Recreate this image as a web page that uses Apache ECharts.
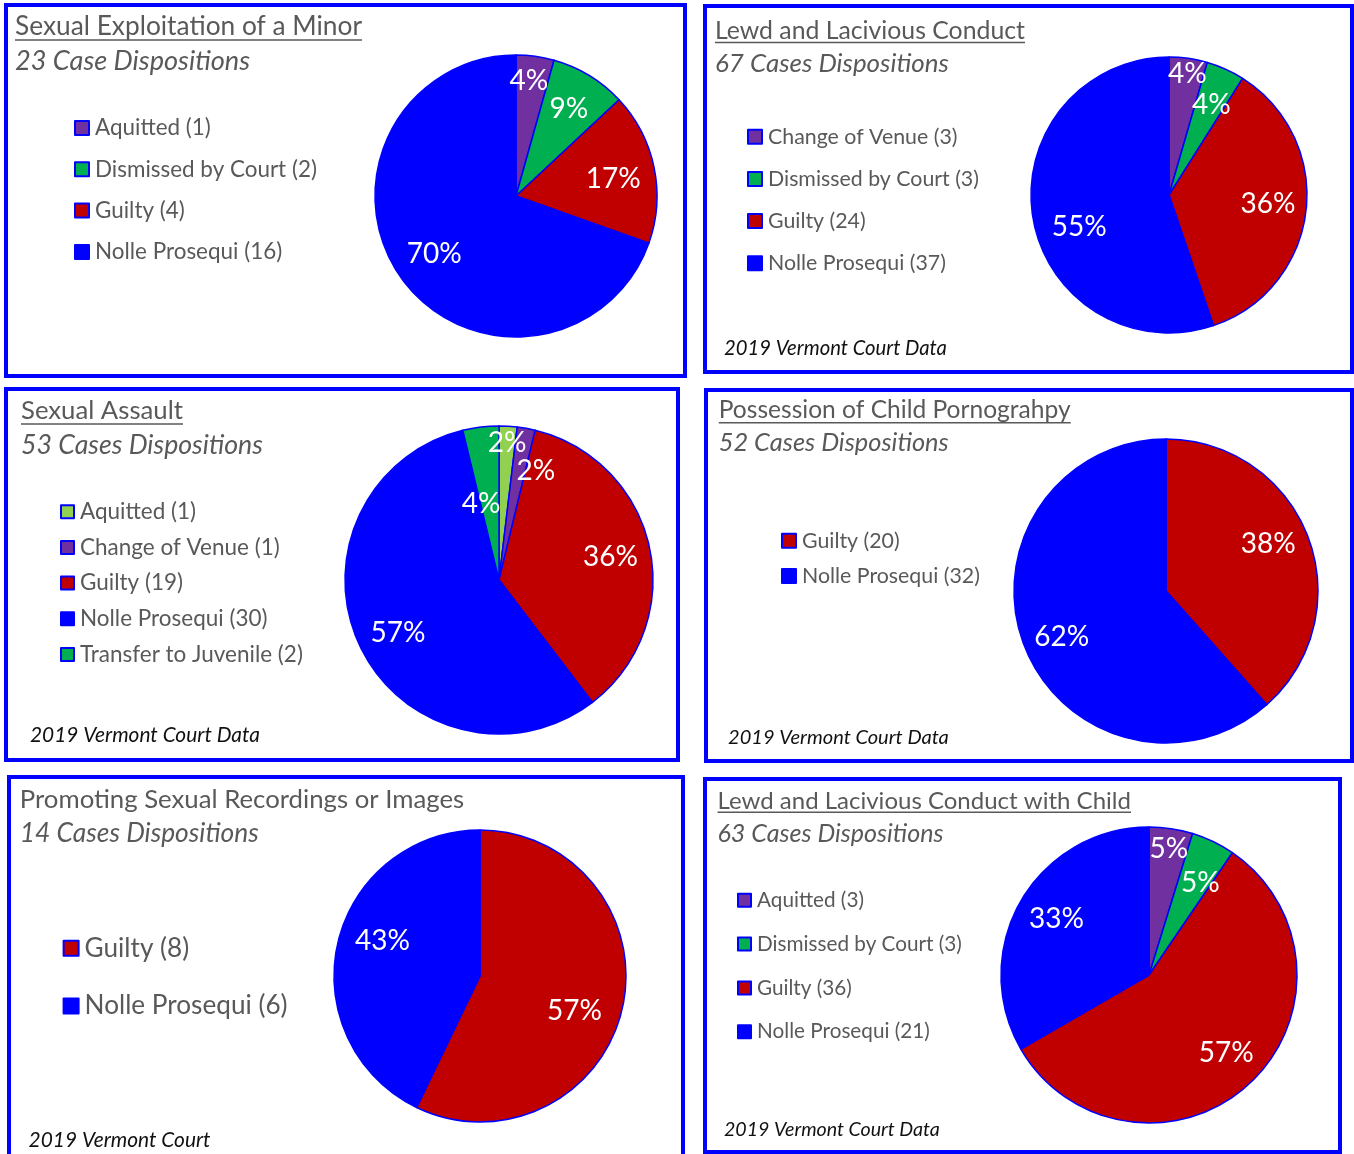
<!DOCTYPE html>
<html><head><meta charset="utf-8">
<script src="https://cdn.jsdelivr.net/npm/echarts@6/dist/echarts.min.js"></script>
<style>html,body{margin:0;padding:0;background:#fff;overflow:hidden}#c{width:1354px;height:1154px}</style>
</head><body><div id="c"></div>
<script>
// ---------- DATA ----------
const p1Title = 'Sexual Exploitation of a Minor';
const p1Sub = '23 Case Dispositions';
const p1Cats = ['Aquitted', 'Dismissed by Court', 'Guilty', 'Nolle Prosequi'];
const p1Vals = [1, 2, 4, 16];

const p2Title = 'Lewd and Lacivious Conduct';
const p2Sub = '67 Cases Dispositions';
const p2Cats = ['Change of Venue', 'Dismissed by Court', 'Guilty', 'Nolle Prosequi'];
const p2Vals = [3, 3, 24, 37];

const p3Title = 'Sexual Assault';
const p3Sub = '53 Cases Dispositions';
const p3Cats = ['Aquitted', 'Change of Venue', 'Guilty', 'Nolle Prosequi', 'Transfer to Juvenile'];
const p3Vals = [1, 1, 19, 30, 2];

const p4Title = 'Possession of Child Pornograhpy';
const p4Sub = '52 Cases Dispositions';
const p4Cats = ['Guilty', 'Nolle Prosequi'];
const p4Vals = [20, 32];

const p5Title = 'Promoting Sexual Recordings or Images';
const p5Sub = '14 Cases Dispositions';
const p5Cats = ['Guilty', 'Nolle Prosequi'];
const p5Vals = [8, 6];

const p6Title = 'Lewd and Lacivious Conduct with Child';
const p6Sub = '63 Cases Dispositions';
const p6Cats = ['Aquitted', 'Dismissed by Court', 'Guilty', 'Nolle Prosequi'];
const p6Vals = [3, 3, 36, 21];

const footerText = '2019 Vermont Court Data';
const footerCut = '2019 Vermont Court';

// ---------- STYLE / LAYOUT ----------
const PURPLE = '#7030A0', GREEN = '#00B050', RED = '#C00000', BLUE = '#0000FF', LGREEN = '#92D050';
const GRAY = '#595959';
const FONT = 'Lato';

const ctx = document.createElement('canvas').getContext('2d');
function fit(text, target, italic) {
  ctx.font = (italic ? 'italic ' : '') + '100px ' + FONT;
  return +(100 * target / ctx.measureText(text).width).toFixed(2);
}

// lr: label radius as fraction of r; la: label angle shift in degrees (Excel "best fit" placement)
const panels = [
  { title: p1Title, sub: p1Sub, cats: p1Cats, vals: p1Vals, colors: [PURPLE, GREEN, RED, BLUE],
    box: [4, 3, 687, 378], tx: 15, tc: 27, tw: 347, uy: 40, sx: 15, sc: 61, sw: 235,
    lx: 74, lc: 128, lsp: 41.3, li: 1, lw: 222, isz: 14,
    cx: 516, cy: 196, r: 141, lr: [0.82, 0.72, 0.70, 0.71], la: [-1.4, 0, 2, 0], foot: null },
  { title: p2Title, sub: p2Sub, cats: p2Cats, vals: p2Vals, colors: [PURPLE, GREEN, RED, BLUE],
    box: [703, 4, 1354, 374], tx: 715, tc: 31, tw: 310, uy: 42.5, sx: 715, sc: 63.5, sw: 234,
    lx: 747, lc: 136.7, lsp: 42.2, li: 1, lw: 211, isz: 14,
    cx: 1169, cy: 195, r: 138, lr: [0.89, 0.72, 0.72, 0.69], la: [0.5, 1, -1.5, -10], foot: [footerText, 724, 348, 223] },
  { title: p3Title, sub: p3Sub, cats: p3Cats, vals: p3Vals, colors: [LGREEN, PURPLE, RED, BLUE, GREEN],
    box: [4, 387, 680, 762], tx: 21, tc: 411, tw: 162, uy: 424, sx: 21, sc: 445.3, sw: 242,
    lx: 60, lc: 511.7, lsp: 35.7, li: 4, lw: 223, isz: 13,
    cx: 499, cy: 580, r: 154, lr: [0.89, 0.75, 0.74, 0.74, 0.51], la: [0, 8.4, 0, -2.2, -6.4], foot: [footerText, 30, 735.5, 230] },
  { title: p4Title, sub: p4Sub, cats: p4Cats, vals: p4Vals, colors: [RED, BLUE],
    box: [704, 388, 1354, 763], tx: 718.75, tc: 410.3, tw: 352, uy: 422.7, sx: 718.75, sc: 442.5, sw: 230,
    lx: 781, lc: 540.7, lsp: 35.3, li: 1, lw: 178, isz: 14,
    cx: 1166, cy: 591, r: 152, lr: [0.74, 0.75], la: [-4, -3], foot: [footerText, 728, 737.5, 221] },
  { title: p5Title, sub: p5Sub, cats: p5Cats, vals: p5Vals, colors: [RED, BLUE],
    box: [7, 775, 685, 1175], tx: 19.8, tc: 799.5, tw: 444.5, uy: null, sx: 19.8, sc: 833, sw: 239,
    lx: 62.6, lc: 948.3, lsp: 57.7, li: 1, lw: 203, isz: 15,
    cx: 480, cy: 976, r: 146, lr: [0.69, 0.71], la: [7.3, 6.9], foot: [footerCut, 28.6, 1140.5, 182] },
  { title: p6Title, sub: p6Sub, cats: p6Cats, vals: p6Vals, colors: [PURPLE, GREEN, RED, BLUE],
    box: [703, 777, 1342, 1154], tx: 717.5, tc: 801, tw: 413.5, uy: 812.3, sx: 717.5, sc: 834, sw: 226,
    lx: 737, lc: 900, lsp: 43.6, li: 1, lw: 205, isz: 13,
    cx: 1149, cy: 975, r: 148, lr: [0.86, 0.71, 0.74, 0.73], la: [0.4, 3.6, -2, 1], foot: [footerText, 724, 1130, 216] }
];

const labelSize = fit('70%', 55, false);

const titles = [], legends = [], series = [], graphics = [];

function addText(text, x, c, size, color, italic) {
  titles.push({
    text: text, left: x, top: c - size / 2, padding: 0,
    textStyle: { fontFamily: FONT, fontSize: size, lineHeight: size, color: color,
      fontWeight: 'normal', fontStyle: italic ? 'italic' : 'normal' }
  });
}

panels.forEach(function (p) {
  const b = p.box;
  graphics.push({ type: 'rect', silent: true, z: 1,
    shape: { x: b[0] + 2, y: b[1] + 2, width: b[2] - b[0] - 4, height: b[3] - b[1] - 4 },
    style: { fill: '#ffffff', stroke: BLUE, lineWidth: 4 } });
  addText(p.title, p.tx, p.tc, fit(p.title, p.tw, false), GRAY, false);
  if (p.uy != null) {
    graphics.push({ type: 'line', silent: true, z: 5,
      shape: { x1: p.tx, y1: p.uy, x2: p.tx + p.tw, y2: p.uy },
      style: { stroke: GRAY, lineWidth: 1.6 } });
  }
  addText(p.sub, p.sx, p.sc, fit(p.sub, p.sw, true), GRAY, true);
  if (p.foot) addText(p.foot[0], p.foot[1], p.foot[2], fit(p.foot[0], p.foot[3], true), '#111111', true);

  const names = p.cats.map(function (c, i) { return c + ' (' + p.vals[i] + ')'; });
  const data = names.map(function (n, i) {
    return { name: n, value: p.vals[i], itemStyle: { color: p.colors[i] } };
  });
  const lsz = fit(names[p.li], p.lw, false);
  legends.push({
    orient: 'vertical', left: p.lx, top: p.lc - lsz / 2, padding: 0,
    itemWidth: p.isz, itemHeight: p.isz, itemGap: p.lsp - lsz, icon: 'rect',
    selectedMode: false,
    textStyle: { fontFamily: FONT, fontSize: lsz, lineHeight: lsz, color: GRAY, padding: [0, 0, 0, 1] },
    data: names.map(function (n, i) {
      return { name: n, itemStyle: { color: p.colors[i], borderColor: BLUE, borderWidth: 2 } };
    })
  });
  series.push({
    type: 'pie', center: [p.cx, p.cy], radius: p.r, startAngle: 90, clockwise: true,
    z: 3, silent: true, labelLine: { show: false },
    itemStyle: { borderColor: BLUE, borderWidth: 1.5 },
    emphasis: { disabled: true },
    avoidLabelOverlap: false,
    label: { show: true, position: 'inside', color: '#ffffff', fontFamily: FONT, fontSize: labelSize,
      formatter: function (prm) { return Math.round(prm.percent) + '%'; } },
    labelLayout: function (prm) {
      const i = prm.dataIndex;
      const lr = prm.labelRect;
      const mx = lr.x + lr.width / 2, my = lr.y + lr.height / 2;
      const ang = Math.atan2(mx - p.cx, -(my - p.cy)) + (p.la[i] || 0) * Math.PI / 180;
      const rr = p.lr[i] * p.r;
      return { x: p.cx + rr * Math.sin(ang), y: p.cy - rr * Math.cos(ang),
        align: 'center', verticalAlign: 'middle', hideOverlap: false };
    },
    data: data
  });
});

const chart = echarts.init(document.getElementById('c'), null, { renderer: 'canvas', width: 1354, height: 1154 });
chart.setOption({
  animation: false,
  backgroundColor: '#ffffff',
  title: titles,
  legend: legends,
  series: series,
  graphic: { elements: graphics }
});
</script>
</body></html>
